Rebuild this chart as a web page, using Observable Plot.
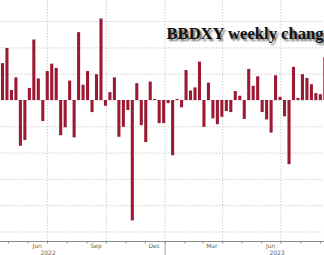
<!DOCTYPE html>
<html><head><meta charset="utf-8">
<script src="https://cdn.jsdelivr.net/npm/d3@7"></script>
<script src="https://cdn.jsdelivr.net/npm/@observablehq/plot@0.6"></script>
<style>html,body{margin:0;padding:0;background:#fff}#chart{width:324px;height:255px;overflow:hidden}</style>
</head><body><div id="chart"></div>
<script>
const title = "BBDXY weekly change";
const firstWeek = "2022-04-19";
const weeklyChange = [
  0.70, 0.99, 0.19, 0.43, -0.87, -0.76, 0.23, 1.15, 0.41, -0.40, 0.55, 0.69,
  0.61, -0.67, -0.52, 0.37, -0.71, 1.29, 0.29, 0.55, -0.23, 0.49, 1.55, -0.11,
  0.15, 0.43, -0.70, -0.51, -0.19, -2.29, 0.32, -0.48, -0.80, 0.35, 0.02, -0.44,
  -0.44, -0.06, -1.05, 0.02, -0.14, 0.57, 0.18, 0.24, 0.73, -0.51, 0.33, -0.35,
  -0.46, -0.32, -0.21, -0.23, 0.17, 0.08, -0.36, 0.59, 0.27, 0.45, -0.23, -0.37, -0.62,
  0.47, 0.06, -0.31, -1.22, 0.63, 0.04, 0.49, 0.42, 0.30, 0.13, 0.11, 0.81
];
const yTicks = [1.5, 1, 0.5, 0, -0.5, -1, -1.5, -2, -2.5];
const gridDates = ["2022-07-01", "2022-10-01", "2023-01-01", "2023-04-01", "2023-07-01"];
const monthTickDates = ["2022-05-01","2022-06-01","2022-07-01","2022-08-01","2022-09-01","2022-10-01","2022-11-01","2022-12-01","2023-01-01","2023-02-01","2023-03-01","2023-04-01","2023-05-01","2023-06-01","2023-07-01","2023-08-01","2023-09-01"];
const monthLabels = ["Jun", "Sep", "Dec", "Mar", "Jun"];
const monthLabelDates = ["2022-06-15", "2022-09-15", "2022-12-15", "2023-03-15", "2023-06-15"];
const yearLabels = ["2022", "2023"];
const yearLabelDates = ["2022-07-02", "2023-06-25"];
const yearBreaks = ["2023-01-01"];

const start = new Date(firstWeek);
const bars = weeklyChange.map((value, i) => ({
  start: d3.utcDay.offset(start, 7 * i),
  end: d3.utcDay.offset(start, 7 * i + 7),
  value
}));
const D = s => new Date(s);
const months = monthLabels.map((label, i) => ({label, date: D(monthLabelDates[i])}));
const years = yearLabels.map((label, i) => ({label, date: D(yearLabelDates[i])}));

const chart = Plot.plot({
  width: 324,
  height: 255,
  marginTop: 0,
  marginBottom: 14,
  marginLeft: 0,
  marginRight: 0,
  style: {background: "#fff", color: "#8a8a8a", overflow: "hidden"},
  x: {
    type: "utc",
    domain: [new Date("2022-04-18T14:37:00Z"), new Date("2023-09-07T05:00:00Z")],
    ticks: monthTickDates.map(D),
    tickSize: 2.5,
    tickFormat: () => "",
    line: true,
    label: null
  },
  y: {domain: [-2.681, 1.901], axis: null},
  marks: [
    Plot.ruleY(yTicks, {stroke: "#c4c4c4", strokeDasharray: "1.5,1.5", strokeWidth: 0.8}),
    Plot.ruleX(gridDates.map(D), {stroke: "#c4c4c4", strokeDasharray: "1.5,1.5", strokeWidth: 0.8}),
    Plot.rectY(bars, {x1: "start", x2: "end", y: "value", fill: "#9b1a33", insetLeft: 0.7, insetRight: 0.7}),
    Plot.ruleX(yearBreaks.map(D), {stroke: "#8a8a8a", strokeWidth: 0.8, insetTop: 241, insetBottom: -14}),
    Plot.text(months, {x: "date", text: "label", frameAnchor: "bottom", lineAnchor: "middle", dy: 5, fontSize: 6, fill: "#666", fontFamily: "DejaVu Sans"}),
    Plot.text(years, {x: "date", text: "label", frameAnchor: "bottom", lineAnchor: "middle", dy: 11.5, fontSize: 6, fill: "#666", fontFamily: "DejaVu Sans"}),
    Plot.text([title], {frameAnchor: "top-left", textAnchor: "start", lineAnchor: "middle", dx: 166, dy: 33.5, fontSize: 16.6, fontWeight: "bold", fontFamily: "Liberation Serif", fill: "#111"})
  ]
});
d3.select(chart).selectAll("text").filter(function () { return this.textContent === title; })
  .style("text-shadow", "2px 2px 2px rgba(0,0,0,0.6)");
document.getElementById("chart").append(chart);
</script>
</body></html>
